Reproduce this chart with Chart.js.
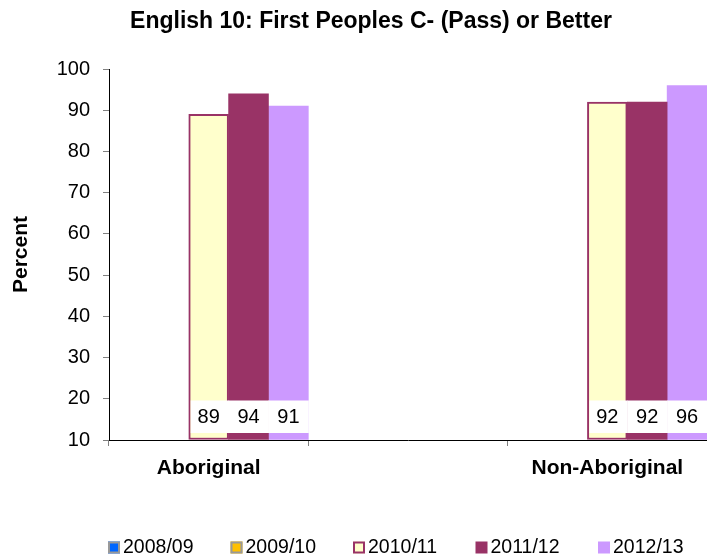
<!DOCTYPE html>
<html>
<head>
<meta charset="utf-8">
<script src="https://cdn.jsdelivr.net/npm/chart.js@4/dist/chart.umd.min.js"></script>
<style>
  html, body { margin: 0; padding: 0; background: #fff; }
</style>
</head>
<body>
<canvas id="grafico" width="707" height="556"></canvas>
<script>

// dados do gráfico
const categorias = ["Aboriginal", "", "Non-Aboriginal"];
const anos = ["2008/09", "2009/10", "2010/11", "2011/12", "2012/13"];
const valores0809 = [null, null, null];
const valores0910 = [null, null, null];
const valores1011 = [89, null, 92];
const valores1112 = [94, null, 92];
const valores1213 = [91, null, 96];
const ticksY = [10, 20, 30, 40, 50, 60, 70, 80, 90, 100];

const titulo = "English 10: First Peoples C- (Pass) or Better";
const tituloY = "Percent";

const fonte = '"Liberation Sans", Arial, sans-serif';

// rótulos brancos na base das barras + título + legenda
const extras = {
  id: 'extras',
  afterDatasetsDraw(chart){
    const ctx = chart.ctx;
    const fundo = chart.scales.y.bottom;
    ctx.save();
    chart.data.datasets.forEach((ds, i) => {
      const meta = chart.getDatasetMeta(i);
      meta.data.forEach((bar, j) => {
        const v = ds.data[j];
        if(v === null || v === undefined) return;
        const b = ds.borderWidth || 0;
        const w = bar.width;
        ctx.fillStyle = "#ffffff";
        ctx.fillRect(bar.x - w / 2 + b, fundo - 39.5, w - b + 0.5, 32.5);
        ctx.fillStyle = "#000000";
        ctx.font = "20px " + fonte;
        ctx.textAlign = "center";
        ctx.textBaseline = "middle";
        ctx.fillText(String(v), bar.x, fundo - 22.5);
      });
    });
    ctx.restore();
  },
  afterDraw(chart){
    const ctx = chart.ctx;
    ctx.save();

    // título
    ctx.fillStyle = "#000000";
    ctx.font = "bold 23px " + fonte;
    ctx.textAlign = "center";
    ctx.textBaseline = "middle";
    ctx.fillText(titulo, 371, 22);

    // legenda
    ctx.font = "19.5px " + fonte;
    ctx.textAlign = "left";
    chart.data.datasets.forEach((ds, i) => {
      const x = 108 + i * 122.5;
      const y = 541.5;
      ctx.fillStyle = ds.backgroundColor;
      ctx.fillRect(x, y, 12, 12);
      if(ds.legendaBorda){
        ctx.strokeStyle = ds.borderColor;
        ctx.lineWidth = 2;
        ctx.strokeRect(x + 1, y + 1, 10, 10);
      }
      ctx.fillStyle = "#000000";
      ctx.fillText(ds.label, x + 15, y + 6);
    });

    ctx.restore();
  }
};

const canvas = document.getElementById("grafico");

const chart = new Chart(canvas, {
  type: 'bar',
  data: {
    labels: categorias,
    datasets: [
      {
        label: anos[0],
        data: valores0809,
        backgroundColor: "#0066ff",
        borderColor: "#999999",
        borderWidth: 0,
        legendaBorda: true
      },
      {
        label: anos[1],
        data: valores0910,
        backgroundColor: "#ffc000",
        borderColor: "#999999",
        borderWidth: 0,
        legendaBorda: true
      },
      {
        label: anos[2],
        data: valores1011,
        backgroundColor: "#ffffcc",
        borderColor: "#993366",
        borderWidth: 2,
        borderSkipped: false,
        legendaBorda: true
      },
      {
        label: anos[3],
        data: valores1112,
        backgroundColor: "#993366",
        borderColor: "#993366",
        borderWidth: 0
      },
      {
        label: anos[4],
        data: valores1213,
        backgroundColor: "#cc99ff",
        borderColor: "#cc99ff",
        borderWidth: 0
      }
    ]
  },
  options: {
    responsive: false,
    animation: false,
    categoryPercentage: 1,
    barPercentage: 1,
    base: 10,
    layout: {
      padding: { top: 69, left: 0, right: 0, bottom: 0 }
    },
    plugins: {
      legend: { display: false },
      title: { display: false },
      tooltip: { enabled: false }
    },
    scales: {
      x: {
        offset: true,
        grid: {
          offset: true,
          drawOnChartArea: false,
          drawTicks: true,
          tickLength: 6,
          color: "#808080"
        },
        border: { color: "#000000", width: 1 },
        ticks: {
          color: "#000000",
          font: { family: fonte, size: 21, weight: 'bold' },
          padding: 10
        },
        afterFit: function(s){ s.height = 116; }
      },
      y: {
        min: 10,
        max: 100,
        afterBuildTicks: function(s){ s.ticks = ticksY.map(v => ({ value: v })); },
        grid: {
          drawOnChartArea: false,
          drawTicks: true,
          tickLength: 6,
          color: "#808080"
        },
        border: { color: "#000000", width: 1 },
        ticks: {
          color: "#000000",
          font: { family: fonte, size: 20 },
          padding: 13
        },
        title: {
          display: true,
          text: tituloY,
          color: "#000000",
          font: { family: fonte, size: 21, weight: 'bold' },
          padding: { top: 9, bottom: 0 }
        },
        afterFit: function(s){ s.width = 109; }
      }
    }
  },
  plugins: [extras]
});

</script>
</body>
</html>
